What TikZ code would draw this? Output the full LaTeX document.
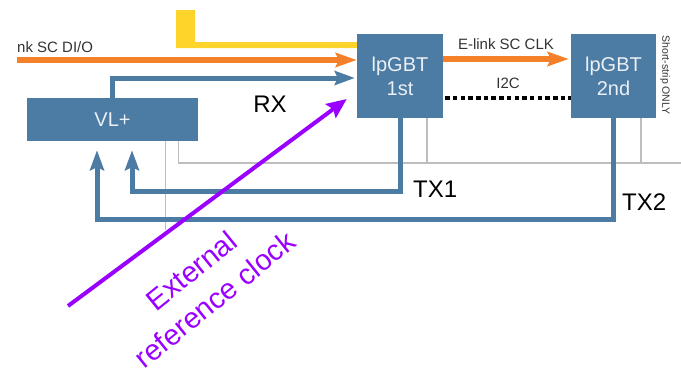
\documentclass[tikz,border=0pt]{standalone}
\usepackage{fontspec}
\setmainfont{Liberation Sans}
\usetikzlibrary{arrows.meta,calc}
\definecolor{gbtblue}{HTML}{4C7BA3}
\definecolor{gbttext}{HTML}{EAF0F6}
\definecolor{sclorange}{HTML}{F5802A}
\definecolor{pwryellow}{HTML}{FFD42A}
\definecolor{clkpurple}{HTML}{9A00FF}
\definecolor{gndgray}{HTML}{BDBDBD}

\begin{document}
\begin{tikzpicture}[x=1pt,y=-1pt,
    gbtbox/.style={fill=gbtblue,text=gbttext,align=center,inner sep=0pt,
        font={\fontsize{20}{24}\selectfont}},
    bus/.style={line width=5pt,gbtblue},
    busarrow/.style={bus,-{Stealth[length=20pt,width=14pt,inset=3pt]}},
    sclarrow/.style={line width=5.5pt,sclorange,-{Stealth[length=21pt,width=14pt,inset=3pt]}},
    gndline/.style={line width=1.5pt,gndgray},
    biglabel/.style={font={\fontsize{24}{28}\selectfont}},
    smalllabel/.style={font={\fontsize{15}{18}\selectfont},text=black!80}]
    \useasboundingbox (0,0) rectangle (681,376);
    % supply rail behind the first lpGBT
    \fill[pwryellow] (176,10) -- (195,10) -- (195,42) -- (362,42) -- (362,48) -- (176,48) -- cycle;
    % boxes
    \node[gbtbox,minimum width=171pt,minimum height=43pt] (vl) at (112.5,119.5) {VL+};
    \node[gbtbox,minimum width=86pt,minimum height=84pt] (lp1) at (400,76) {lpGBT\\1st};
    \node[gbtbox,minimum width=85pt,minimum height=84pt] (lp2) at (613.5,76) {lpGBT\\2nd};
    % ground lines
    \draw[gndline] ([xshift=-19.5pt]vl.south east) |- (681,163);
    \draw[gndline] ([xshift=-32.5pt]vl.south east) -- ++(0,89);
    \draw[gndline] ([xshift=-16pt]lp1.south east) -- ++(0,45);
    \draw[gndline] ([xshift=-15pt]lp2.south east) -- ++(0,45);
    % slow control links
    \coordinate (dioin) at (17,60);
    \draw[sclarrow] (dioin) -- (dioin -| lp1.west);
    \node[smalllabel,anchor=west,inner sep=0pt] (diolabel) at (17,47) {nk SC DI/O};
    \draw[sclarrow] ([yshift=17pt]lp1.east) -- ([yshift=17pt,xshift=-2pt]lp2.west)
        node[smalllabel,midway,above=3pt] (clklabel) {E-link SC CLK};
    \draw[line width=4.5pt,dash pattern=on 4.5pt off 3.2pt] ([yshift=-22pt,xshift=2pt]lp1.east) -- ([yshift=-22pt]lp2.west)
        node[smalllabel,midway,above=4pt] (i2clabel) {I2C};
    % data links
    \draw[busarrow] (vl.north) |- ([yshift=-2pt,xshift=-2pt]lp1.west);
    \coordinate (tx1in) at ($(vl.south)+(19.5,9)$);
    \coordinate (tx2in) at ($(vl.south)+(-15.5,9)$);
    \draw[busarrow] (lp1.south) -- (lp1.south |- 0,191) -| (tx1in);
    \draw[busarrow] (lp2.south) -- (lp2.south |- 0,219) -| (tx2in);
    \node[biglabel] (rx) at (270,104) {RX};
    \node[biglabel,anchor=west,inner sep=0pt] (tx1) at (413,189) {TX1};
    \node[biglabel,anchor=west,inner sep=0pt] (tx2) at (622,202) {TX2};
    \node[rotate=-90,font={\fontsize{10.5}{12}\selectfont},text=black!80] (ssonly) at (665,75) {Short-strip ONLY};
    % external clock
    \coordinate (clkin) at (68,306);
    \draw[line width=4pt,clkpurple,-{Stealth[length=20pt,width=17pt,inset=3pt]}] (clkin) -- ([xshift=-10pt,yshift=-23pt]lp1.west);
    \node[rotate=39,align=center,text=clkpurple,font={\fontsize{29}{37}\selectfont}] (clklbl) at (203,285) {External\\reference clock};
\end{tikzpicture}
\end{document}
